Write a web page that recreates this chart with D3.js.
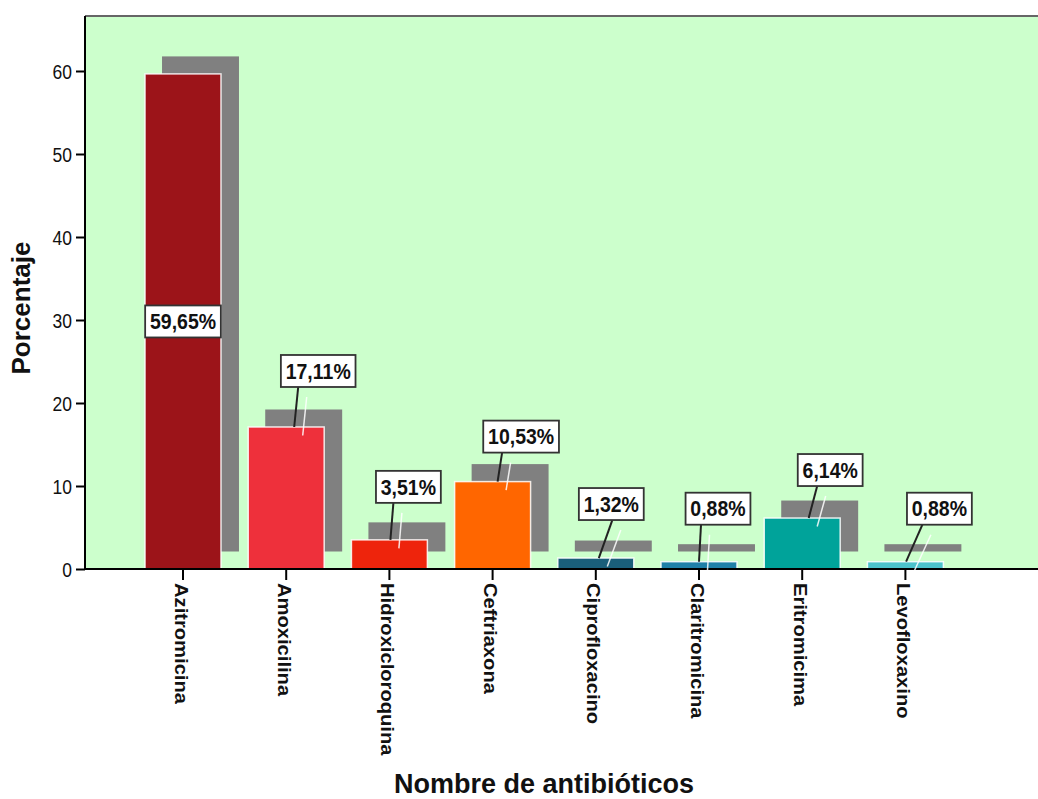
<!DOCTYPE html>
<html>
<head>
<meta charset="utf-8">
<script src="https://cdn.jsdelivr.net/npm/d3@7"></script>
<style>
  html, body { margin: 0; padding: 0; background: #ffffff; }
  svg { display: block; font-family: "Liberation Sans", Arial, sans-serif; }
</style>
</head>
<body>
<svg id="chart" width="1038" height="799"></svg>
<script>
// ---- data ----
const categories = ["Azitromicina", "Amoxicilina", "Hidroxicloroquina", "Ceftriaxona",
                    "Ciprofloxacino", "Claritromicina", "Eritromicima", "Levofloxaxino"];
const percentages = [59.65, 17.11, 3.51, 10.53, 1.32, 0.88, 6.14, 0.88];
const valueLabels = ["59,65%", "17,11%", "3,51%", "10,53%", "1,32%", "0,88%", "6,14%", "0,88%"];
const yTicks = [0, 10, 20, 30, 40, 50, 60];
const barColors = ["#9c1419", "#ee303b", "#ee240c", "#ff6600", "#1a5f7a", "#2080a8", "#00a39a", "#4cc3cc"];

// ---- layout (label placement, not data) ----
// [box centre dx from bar centre, gap box-bottom to bar-top, leader top dx from box centre, leader bottom dx from bar centre]
const labelLayout = [
  null,
  [32, 40, -20, 8],
  [19, 37, -15, 1],
  [28.5, 29, -19, 5],
  [15.5, 38, 1, 3],
  [19, 37, -17, 0],
  [28, 32, -13, 6.5],
  [34, 37, -17, 0.7]
];

const svg = d3.select("#chart");
const W = 1038, H = 799;
const plotLeft = 85, plotTop = 16, plotBottom = 569;

const x = d3.scaleBand().domain(categories).range([131.4, 957]).paddingInner(0.264).paddingOuter(0.132);
const y = d3.scaleLinear().domain([0, 60]).range([plotBottom, 71]);

// plot background
svg.append("rect")
  .attr("x", plotLeft).attr("y", plotTop)
  .attr("width", W - plotLeft + 5).attr("height", plotBottom - plotTop)
  .attr("fill", "#ccffcc");
svg.append("line")
  .attr("x1", plotLeft).attr("x2", W).attr("y1", plotTop).attr("y2", plotTop)
  .attr("stroke", "#666").attr("stroke-width", 2);

const data = categories.map((c, i) => ({ c, v: percentages[i], label: valueLabels[i], color: barColors[i], lay: labelLayout[i] }));

// shadows
const sdx = 17, sdy = -17.5;
svg.append("g").selectAll("rect").data(data).join("rect")
  .attr("x", d => x(d.c) + sdx)
  .attr("y", d => y(d.v) + sdy)
  .attr("width", x.bandwidth() + 1)
  .attr("height", d => y(0) - y(d.v))
  .attr("fill", "#808080");

// bars
svg.append("g").selectAll("rect").data(data).join("rect")
  .attr("x", d => x(d.c))
  .attr("y", d => y(d.v))
  .attr("width", x.bandwidth())
  .attr("height", d => y(0) - y(d.v))
  .attr("fill", d => d.color)
  .attr("stroke", "#ffffff").attr("stroke-opacity", 0.85).attr("stroke-width", 1.5);

// axes
const yAxis = d3.axisLeft(y).tickValues(yTicks).tickSize(9).tickPadding(4).tickFormat(d3.format("d"));
const gy = svg.append("g").attr("transform", `translate(${plotLeft},0)`).call(yAxis);
gy.select(".domain").remove();
gy.selectAll(".tick line").attr("stroke", "#000").attr("stroke-width", 2);
gy.selectAll(".tick text").attr("font-size", 17.5).attr("fill", "#111")
  .attr("font-family", "Liberation Sans, Arial, sans-serif")
  .attr("x", 0).attr("dy", null)
  .attr("transform", "translate(-13,0) scale(1,1.12) translate(0,6.3)");

const xAxis = d3.axisBottom(x).tickSize(11).tickPadding(0);
const gx = svg.append("g").attr("transform", `translate(0,${plotBottom})`).call(xAxis);
gx.select(".domain").remove();
gx.selectAll(".tick line").attr("stroke", "#000").attr("stroke-width", 2);
gx.selectAll(".tick text")
  .attr("font-size", 18).attr("font-weight", "bold").attr("fill", "#111")
  .attr("font-family", "Liberation Sans, Arial, sans-serif")
  .attr("text-anchor", "start")
  .attr("transform", "translate(-2,14) rotate(90) scale(1.12,1)")
  .attr("x", 0).attr("y", 0).attr("dy", "0.35em");

svg.append("line").attr("x1", plotLeft).attr("x2", plotLeft).attr("y1", plotTop).attr("y2", plotBottom + 1)
  .attr("stroke", "#000").attr("stroke-width", 2);
svg.append("line").attr("x1", plotLeft).attr("x2", W).attr("y1", plotBottom).attr("y2", plotBottom)
  .attr("stroke", "#000").attr("stroke-width", 2);

// value labels
const lg = svg.append("g");
const boxH = 32, padX = 4.8;
data.forEach(d => {
  const cx = x(d.c) + x.bandwidth() / 2;
  const top = y(d.v);
  let bx, bcy;
  if (!d.lay) {
    bx = cx; bcy = y(d.v / 2);
  } else {
    bx = cx + d.lay[0];
    bcy = top - d.lay[1] - boxH / 2;
    const x1 = bx + d.lay[2], y1 = bcy + boxH / 2;
    const x2 = cx + d.lay[3], y2 = top;
    lg.append("line").attr("x1", x1 + 8.5).attr("y1", y1 + 10).attr("x2", x2 + 8.5).attr("y2", y2 + 8.5)
      .attr("stroke", "#ffffff").attr("stroke-width", 1.5).attr("stroke-opacity", 0.85);
    lg.append("line").attr("x1", x1).attr("y1", y1).attr("x2", x2).attr("y2", y2)
      .attr("stroke", "#222").attr("stroke-width", 2);
  }
  const t = lg.append("text")
    .attr("transform", `translate(${bx},${bcy}) scale(1,1.1)`)
    .attr("x", 0).attr("y", 0).attr("dy", "0.36em")
    .attr("text-anchor", "middle").attr("font-size", 19.5).attr("font-weight", "bold").attr("fill", "#111")
    .text(d.label);
  const w = t.node().getComputedTextLength() + 2 * padX;
  lg.insert("rect", () => t.node())
    .attr("x", bx - w / 2).attr("y", bcy - boxH / 2)
    .attr("width", w).attr("height", boxH)
    .attr("fill", "#ffffff").attr("stroke", "#333").attr("stroke-width", 1.8);
});

// axis titles
svg.append("text")
  .attr("transform", "translate(30,308) rotate(-90)")
  .attr("text-anchor", "middle").attr("font-size", 26).attr("font-weight", "bold").attr("fill", "#111")
  .text("Porcentaje");
svg.append("text")
  .attr("x", 544).attr("y", 793)
  .attr("text-anchor", "middle").attr("font-size", 27).attr("font-weight", "bold").attr("fill", "#111")
  .text("Nombre de antibióticos");
</script>
</body>
</html>
